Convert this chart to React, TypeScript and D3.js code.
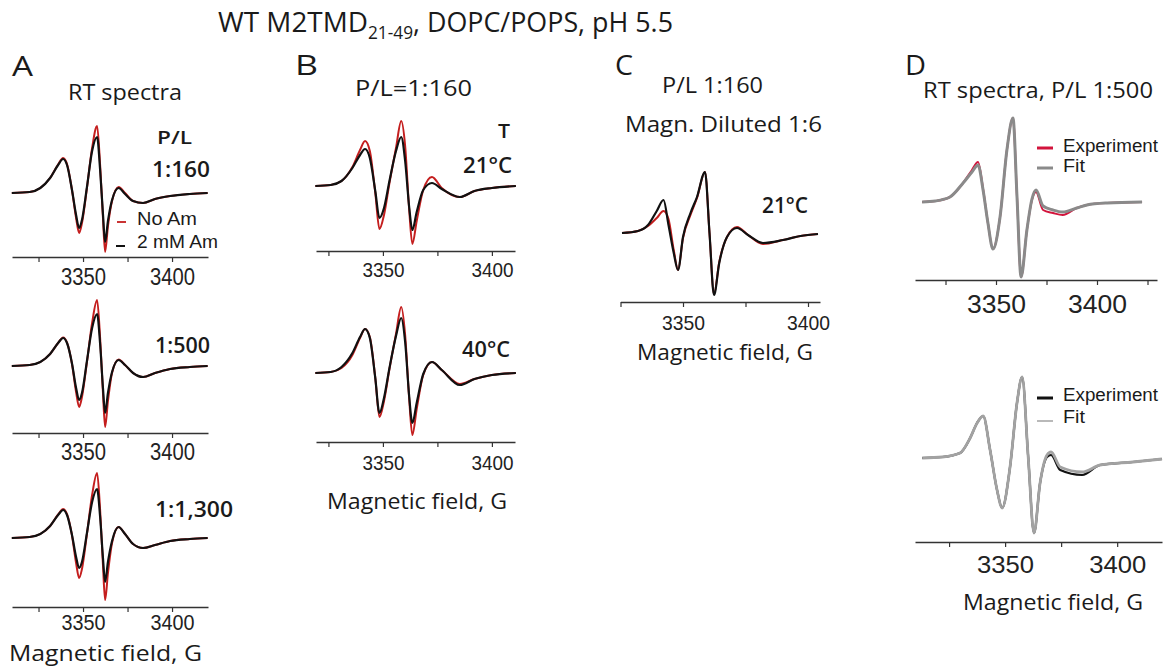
import * as d3 from 'd3';
import { useEffect, useRef } from 'react';

const W = 1164;
const H = 667;

const FIELD_A = [3310, 3320, 3326, 3331.5, 3336, 3338.8, 3341, 3343.8, 3346.1, 3347.8, 3349.4, 3352.2, 3355.1, 3357.9, 3359.6, 3361.2, 3362.4, 3364, 3366.3, 3370, 3373.6, 3378.1, 3383.7, 3390.4, 3398.9, 3410, 3420];
const A1_NOAM = [0, 0.02, 0.1, 0.3, 0.57, 0.7, 0.58, 0.06, -0.5, -0.8, -0.6, 0.1, 0.9, 1.34, 0.56, -0.5, -1.18, -0.66, -0.16, 0.12, 0.0, -0.16, -0.2, -0.12, -0.06, -0.02, 0];
const A1_AM = [0, 0.02, 0.1, 0.3, 0.56, 0.68, 0.56, 0.06, -0.44, -0.7, -0.54, 0.12, 0.84, 1.12, 0.46, -0.42, -0.98, -0.56, -0.14, 0.1, -0.02, -0.16, -0.2, -0.12, -0.06, -0.02, 0];
const A2_NOAM = [0, 0.02, 0.08, 0.24, 0.46, 0.57, 0.47, 0.04, -0.52, -0.82, -0.62, 0.08, 0.86, 1.32, 0.56, -0.54, -1.22, -0.7, -0.14, 0.13, 0.02, -0.14, -0.22, -0.14, -0.06, -0.02, 0];
const A2_AM = [0, 0.02, 0.08, 0.24, 0.46, 0.56, 0.46, 0.05, -0.44, -0.68, -0.54, 0.1, 0.76, 1.04, 0.44, -0.44, -0.94, -0.54, -0.12, 0.12, 0.02, -0.14, -0.22, -0.14, -0.06, -0.02, 0];
const A3_NOAM = [0, 0.02, 0.08, 0.24, 0.47, 0.58, 0.48, 0.05, -0.5, -0.8, -0.62, 0.08, 0.86, 1.3, 0.56, -0.54, -1.24, -0.7, -0.1, 0.22, 0.08, -0.12, -0.2, -0.14, -0.06, -0.02, 0];
const A3_AM = [0, 0.02, 0.08, 0.24, 0.46, 0.56, 0.46, 0.06, -0.38, -0.6, -0.48, 0.1, 0.72, 0.98, 0.42, -0.4, -0.88, -0.48, -0.06, 0.22, 0.08, -0.12, -0.2, -0.14, -0.06, -0.02, 0];

const FIELD_B = [3319, 3326, 3331, 3336, 3339.5, 3341.8, 3344, 3346.5, 3348.4, 3350.5, 3353, 3356, 3358.4, 3360.2, 3362, 3363.5, 3365.5, 3368.5, 3372.5, 3377, 3385.3, 3392, 3400, 3411];
const B21_NOAM = [0, 0.02, 0.1, 0.38, 0.72, 0.9, 0.7, -0.14, -0.86, -0.58, 0.06, 0.76, 1.3, 0.8, -0.44, -1.16, -0.7, -0.08, 0.18, -0.04, -0.22, -0.1, -0.04, 0];
const B21_AM = [0, 0.02, 0.1, 0.36, 0.62, 0.74, 0.56, -0.1, -0.64, -0.44, 0.1, 0.7, 0.98, 0.5, -0.4, -0.88, -0.52, -0.08, 0.06, -0.06, -0.22, -0.1, -0.04, 0];
const B40_NOAM = [0, 0.02, 0.1, 0.36, 0.7, 0.88, 0.72, -0.1, -0.88, -0.56, 0.08, 0.78, 1.32, 0.76, -0.48, -1.24, -0.72, -0.04, 0.22, 0.06, -0.22, -0.12, -0.04, 0];
const B40_AM = [0, 0.02, 0.12, 0.4, 0.72, 0.88, 0.7, -0.1, -0.8, -0.5, 0.1, 0.74, 1.1, 0.62, -0.44, -1.0, -0.6, -0.02, 0.22, 0.06, -0.24, -0.12, -0.04, 0];

const FIELD_C = [3325.6, 3332, 3336, 3339.5, 3342.2, 3344.2, 3346.3, 3348, 3350, 3353, 3355.6, 3358.8, 3360.6, 3362.4, 3364.5, 3367.6, 3371.6, 3376, 3382, 3390, 3397, 3404];
const C_NOAM = [0, 0.04, 0.14, 0.3, 0.44, 0.28, -0.34, -0.74, -0.1, 0.36, 0.7, 1.22, 0.0, -1.22, -0.58, -0.08, 0.12, -0.04, -0.22, -0.14, -0.06, -0.02];
const C_AM = [0, 0.04, 0.16, 0.44, 0.66, 0.16, -0.4, -0.74, -0.08, 0.4, 0.72, 1.22, 0.0, -1.24, -0.6, -0.08, 0.1, -0.04, -0.2, -0.14, -0.06, -0.02];

const FIELD_D1 = [3313.4, 3320, 3327.2, 3333.7, 3338.1, 3341.1, 3343.6, 3346, 3348.5, 3352, 3355.4, 3358.4, 3360.4, 3362.4, 3365.3, 3367.8, 3369.8, 3373.3, 3378.2, 3383, 3390, 3395, 3405, 3422.3];
const D1_EXP = [0, 0.02, 0.1, 0.38, 0.64, 0.8, 0.26, -0.42, -0.94, -0.3, 1.04, 1.68, 0.1, -1.5, -0.56, 0.04, 0.2, -0.16, -0.22, -0.26, -0.12, -0.06, -0.02, 0];
const D1_FIT = [0, 0.02, 0.1, 0.38, 0.6, 0.74, 0.24, -0.42, -0.94, -0.3, 1.04, 1.68, 0.1, -1.5, -0.56, 0.06, 0.24, -0.08, -0.16, -0.2, -0.12, -0.06, -0.02, 0];

const FIELD_D2 = [3313, 3322, 3329.9, 3334.4, 3337.5, 3340.2, 3343.3, 3346.4, 3348.7, 3352.2, 3355.3, 3357.6, 3360.3, 3362.9, 3365.6, 3368.7, 3370.5, 3374.6, 3384.4, 3392.4, 3407, 3420];
const D2_EXP = [0, 0.02, 0.1, 0.4, 0.7, 0.84, 0.16, -0.64, -1.0, -0.18, 1.1, 1.62, 0.02, -1.5, -0.5, 0.02, 0.06, -0.24, -0.34, -0.14, -0.08, -0.02];
const D2_FIT = [0, 0.02, 0.1, 0.4, 0.7, 0.84, 0.16, -0.64, -1.0, -0.18, 1.1, 1.62, 0.02, -1.5, -0.5, 0.06, 0.12, -0.18, -0.28, -0.14, -0.08, -0.02];

const TICK_LABELS = [3350, 3400];
const TICKS_ALL = [3300, 3325, 3350, 3375, 3400, 3425];

const RED = '#c41e1e';
const RED_D = '#d2143c';
const BLACK = '#111';
const GRAY = '#8a8a8a';
const GRAY_LIGHT = '#a2a2a2';

const SANS = "'Open Sans', 'Noto Sans', sans-serif";
const ARIAL = "'Liberation Sans', Arial, sans-serif";

const plots = [
  { field: FIELD_A, traces: [{ v: A1_NOAM, c: RED, w: 2 }, { v: A1_AM, c: BLACK, w: 2.2 }], xd: [3310.1, 3420.2], xr: [12, 208], base: 193, axisY: 257, fs: 23, tw: 45, dy: 28 },
  { field: FIELD_A, traces: [{ v: A2_NOAM, c: RED, w: 2 }, { v: A2_AM, c: BLACK, w: 2.2 }], xd: [3310.1, 3420.2], xr: [12, 208], base: 366, axisY: 433, fs: 23, tw: 45, dy: 27 },
  { field: FIELD_A, traces: [{ v: A3_NOAM, c: RED, w: 2 }, { v: A3_AM, c: BLACK, w: 2.2 }], xd: [3310.1, 3420.2], xr: [12, 208], base: 538, axisY: 607, fs: 22, tw: 44, dy: 23 },
  { field: FIELD_B, traces: [{ v: B21_NOAM, c: RED, w: 2 }, { v: B21_AM, c: BLACK, w: 2.2 }], xd: [3319.3, 3410.6], xr: [316, 515], base: 186, axisY: 251, fs: 21, tw: 42, dy: 26 },
  { field: FIELD_B, traces: [{ v: B40_NOAM, c: RED, w: 2 }, { v: B40_AM, c: BLACK, w: 2.2 }], xd: [3319.3, 3410.6], xr: [316, 515], base: 373, axisY: 442, fs: 21, tw: 42, dy: 28 },
  { field: FIELD_C, traces: [{ v: C_NOAM, c: RED, w: 2 }, { v: C_AM, c: BLACK, w: 2.2 }], xd: [3325, 3404.8], xr: [620.5, 820], base: 233, axisY: 302, fs: 21, tw: 43, dy: 28 },
  { field: FIELD_D1, traces: [{ v: D1_EXP, c: RED_D, w: 2 }, { v: D1_FIT, c: GRAY, w: 3 }], xd: [3309.9, 3429.7], xr: [915, 1157], base: 202, axisY: 280, fs: 25, tw: 59, dy: 33 },
  { field: FIELD_D2, traces: [{ v: D2_EXP, c: BLACK, w: 2.2 }, { v: D2_FIT, c: GRAY_LIGHT, w: 2.8 }], xd: [3309.8, 3420], xr: [915, 1162], base: 458, axisY: 542, fs: 24, tw: 57, dy: 31 },
];

// [text, x, baseline, size, width, family, weight]
const labels: [string, number, number, number, number, string, number][] = [
  ['WT M2TMD', 218, 32, 27, 150, SANS, 400],
  ['21-49', 368, 39, 18, 45, SANS, 400],
  [', DOPC/POPS, pH 5.5', 413, 32, 27, 260, SANS, 400],
  ['A', 12, 76, 28, 21, SANS, 400],
  ['B', 295, 75, 28, 23, SANS, 400],
  ['C', 615, 75, 28, 18, SANS, 400],
  ['D', 905, 75, 28, 21, SANS, 400],
  ['RT spectra', 68, 100, 21, 114, SANS, 400],
  ['P/L', 157, 144, 18, 35, SANS, 600],
  ['1:160', 152, 177, 21, 58, SANS, 600],
  ['No Am', 137, 225, 18, 60, ARIAL, 400],
  ['2 mM Am', 137, 248, 18, 81, ARIAL, 400],
  ['1:500', 155, 353, 21, 55, SANS, 600],
  ['1:1,300', 155, 517, 21, 78, SANS, 600],
  ['Magnetic field, G', 9, 661, 22, 193, SANS, 400],
  ['P/L=1:160', 355, 96, 21, 117, SANS, 400],
  ['T', 498, 138, 19, 12, SANS, 600],
  ['21°C', 463, 173, 21, 49, SANS, 600],
  ['40°C', 462, 357, 21, 48, SANS, 600],
  ['Magnetic field, G', 327, 509, 22, 180, SANS, 400],
  ['P/L 1:160', 662, 93, 21, 101, SANS, 400],
  ['Magn. Diluted 1:6', 625, 132, 22, 197, SANS, 400],
  ['21°C', 762, 213, 21, 46, SANS, 600],
  ['Magnetic field, G', 637, 360, 22, 176, SANS, 400],
  ['RT spectra, P/L 1:500', 923, 98, 22, 230, SANS, 400],
  ['Experiment', 1063, 152, 18, 95, ARIAL, 400],
  ['Fit', 1063, 172, 18, 22, ARIAL, 400],
  ['Experiment', 1063, 401, 18, 95, ARIAL, 400],
  ['Fit', 1063, 423, 18, 22, ARIAL, 400],
  ['Magnetic field, G', 963, 610, 22, 180, SANS, 400],
];

// legend dashes: [x1, x2, y, color, width]
const dashes: [number, number, number, string, number][] = [
  [117, 126, 222, RED, 1.8],
  [116, 125, 246, BLACK, 2],
  [1037, 1053, 148, RED_D, 3],
  [1037, 1053, 168, GRAY, 3],
  [1037, 1053, 398, BLACK, 3],
  [1037, 1053, 421, GRAY_LIGHT, 1.5],
];

export default function App() {
  const svgRef = useRef<SVGSVGElement>(null);

  useEffect(() => {
    if (!svgRef.current) return;
    const svg = d3.select(svgRef.current);
    svg.selectAll('*').remove();

    svg.append('rect').attr('width', W).attr('height', H).attr('fill', '#fff');

    plots.forEach((p) => {
      const x = d3.scaleLinear().domain(p.xd).range(p.xr);
      const y = d3.scaleLinear().domain([0, 1]).range([p.base, p.base - 50]);
      const g = svg.append('g');

      p.traces.forEach((t) => {
        const line = d3
          .line<number>()
          .x((_, i) => x(p.field[i]))
          .y((d) => y(d))
          .curve(d3.curveMonotoneX);
        g.append('path')
          .datum(t.v)
          .attr('d', line)
          .attr('fill', 'none')
          .attr('stroke', t.c)
          .attr('stroke-width', t.w)
          .attr('stroke-linejoin', 'round');
      });

      const ticks = TICKS_ALL.filter((v) => v >= p.xd[0] - 0.01 && v <= p.xd[1]);
      g.append('g')
        .attr('transform', `translate(0,${p.axisY})`)
        .call(d3.axisBottom(x).tickValues(ticks).tickSize(5).tickSizeOuter(0).tickFormat(() => ''))
        .call((a) => a.select('.domain').attr('stroke', '#333').attr('stroke-width', 1.5))
        .call((a) => a.selectAll('.tick line').attr('stroke', '#333').attr('stroke-width', 1.2));

      const lab = g
        .append('g')
        .attr('transform', `translate(0,${p.axisY})`)
        .call(d3.axisBottom(x).tickValues(TICK_LABELS).tickSize(0).tickSizeOuter(0).tickFormat(d3.format('d')));
      lab.select('.domain').remove();
      lab
        .selectAll('text')
        .attr('y', p.dy)
        .attr('dy', null)
        .attr('fill', '#222')
        .attr('font-family', ARIAL)
        .attr('font-size', p.fs)
        .attr('textLength', p.tw)
        .attr('lengthAdjust', 'spacingAndGlyphs');
    });

    dashes.forEach(([x1, x2, yy, c, w]) => {
      svg.append('line').attr('x1', x1).attr('x2', x2).attr('y1', yy).attr('y2', yy).attr('stroke', c).attr('stroke-width', w);
    });

    labels.forEach(([t, lx, ly, fs, tw, fam, wt]) => {
      svg
        .append('text')
        .attr('x', lx)
        .attr('y', ly)
        .attr('font-family', fam)
        .attr('font-size', fs)
        .attr('font-weight', wt)
        .attr('fill', '#1a1a1a')
        .attr('textLength', tw)
        .attr('lengthAdjust', 'spacingAndGlyphs')
        .text(t);
    });
  }, []);

  return (
    <svg
      ref={svgRef}
      width={W}
      height={H}
      style={{ position: 'absolute', left: 0, top: 0, background: '#fff' }}
    />
  );
}
